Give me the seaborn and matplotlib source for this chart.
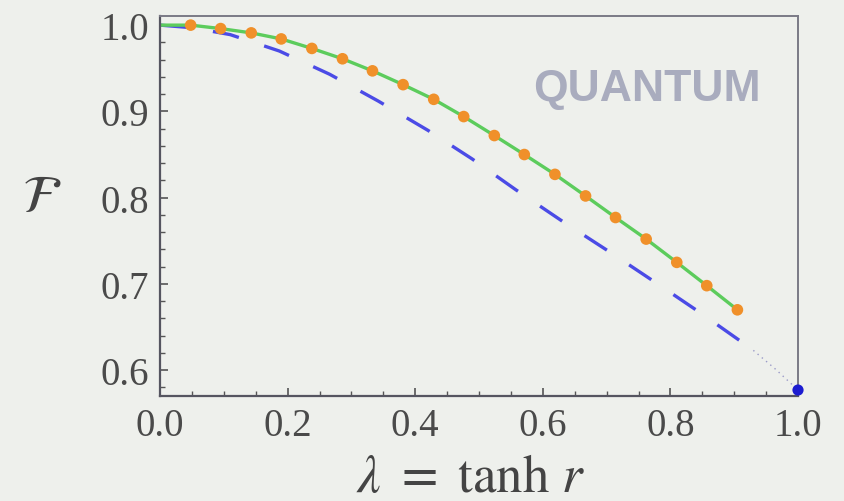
import seaborn as sns
import matplotlib.pyplot as plt
import pandas as pd

# orange points (quantum fidelity)
lam_dots = [0.048, 0.095, 0.143, 0.190, 0.238, 0.286, 0.333, 0.381, 0.429, 0.476,
            0.524, 0.571, 0.619, 0.667, 0.714, 0.762, 0.810, 0.857, 0.905]
fid_dots = [1.000, 0.996, 0.991, 0.984, 0.973, 0.961, 0.947, 0.931, 0.914, 0.894,
            0.872, 0.850, 0.827, 0.802, 0.777, 0.752, 0.725, 0.698, 0.670]

# dashed blue curve
lam_dash = [0.0, 0.05, 0.11, 0.187, 0.266, 0.342, 0.42, 0.489, 0.558, 0.632,
            0.705, 0.776, 0.846, 0.917, 0.93]
fid_dash = [1.0, 0.997, 0.989, 0.970, 0.943, 0.912, 0.878, 0.845, 0.809, 0.772,
            0.737, 0.702, 0.667, 0.630, 0.623]

# faint dotted tail and end point
lam_tail = [0.93, 0.965, 1.0]
fid_tail = [0.623, 0.601, 0.577]
lam_end = [1.0]
fid_end = [0.577]

x_ticks = [0.0, 0.2, 0.4, 0.6, 0.8, 1.0]
y_ticks = [0.6, 0.7, 0.8, 0.9, 1.0]

bg = '#eef0ec'
sns.set_theme(style='ticks')
plt.rcParams['font.family'] = ['Liberation Serif', 'DejaVu Serif']
plt.rcParams['mathtext.fontset'] = 'stix'

fig = plt.figure(figsize=(8.44, 5.02), dpi=100, facecolor=bg)
ax = fig.add_axes([0.1896, 0.209, 0.7559, 0.757])
ax.set_facecolor(bg)

green = pd.DataFrame({'lam': [0.0] + lam_dots, 'F': [1.0] + fid_dots})
dash = pd.DataFrame({'lam': lam_dash, 'F': fid_dash})

sns.lineplot(data=dash, x='lam', y='F', ax=ax, color='#4b4be6', lw=2.4,
             sort=False, estimator=None)
ax.lines[-1].set_dashes((8, 8))
sns.lineplot(x=lam_tail, y=fid_tail, ax=ax, color='#9a9ac8', lw=1.0,
             linestyle=(0, (1, 3)), sort=False, estimator=None)
sns.lineplot(data=green, x='lam', y='F', ax=ax, color='#5ccc5c', lw=2.4,
             sort=False, estimator=None)
sns.scatterplot(x=lam_dots, y=fid_dots, ax=ax, color='#f0902a', s=70,
                edgecolor='none', zorder=4)
sns.scatterplot(x=lam_end, y=fid_end, ax=ax, color='#1c1cd0', s=65,
                edgecolor='none', zorder=5, clip_on=False)

ax.set_xlim(0, 1.0)
ax.set_ylim(0.570, 1.0105)
ax.set_xticks(x_ticks)
ax.set_xticklabels([f'{v:.1f}' for v in x_ticks])
ax.set_yticks(y_ticks)
ax.set_yticklabels([f'{v:.1f}' for v in y_ticks])
ax.set_xticks([i * 0.05 for i in range(21)], minor=True)
ax.set_yticks([0.58 + i * 0.02 for i in range(22) if 0.58 + i * 0.02 < 1.01], minor=True)
ax.tick_params(which='major', direction='in', length=6, width=1.2, color='#555555',
               labelsize=28, labelcolor='#4a4a4a', top=False, right=False, pad=8)
ax.tick_params(which='minor', direction='in', length=3.5, width=1.0, color='#555555',
               top=False, right=False)

for side in ['left', 'bottom']:
    ax.spines[side].set_color('#555560')
    ax.spines[side].set_linewidth(1.6)
for side in ['top', 'right']:
    ax.spines[side].set_color('#7a7a86')
    ax.spines[side].set_linewidth(1.4)

ax.set_xlabel(r'$\lambda\ =\ \tanh\,r$', fontsize=38, color='#444444', labelpad=0)
ax.xaxis.label.set_va('center')
ax.xaxis.set_label_coords(0.486, -0.215)
ax.set_ylabel(r'$\mathcal{F}$', fontsize=38, color='#444444', rotation=0)
ax.yaxis.label.set_va('center')
ax.yaxis.set_label_coords(-0.185, 0.52)

ax.text(0.763, 0.81, 'QUANTUM', transform=ax.transAxes, ha='center', va='center',
        fontsize=32, fontweight='bold', color='#a9acbe', family=['Liberation Sans'])

fig.savefig('out.png', dpi=100, facecolor=bg)
